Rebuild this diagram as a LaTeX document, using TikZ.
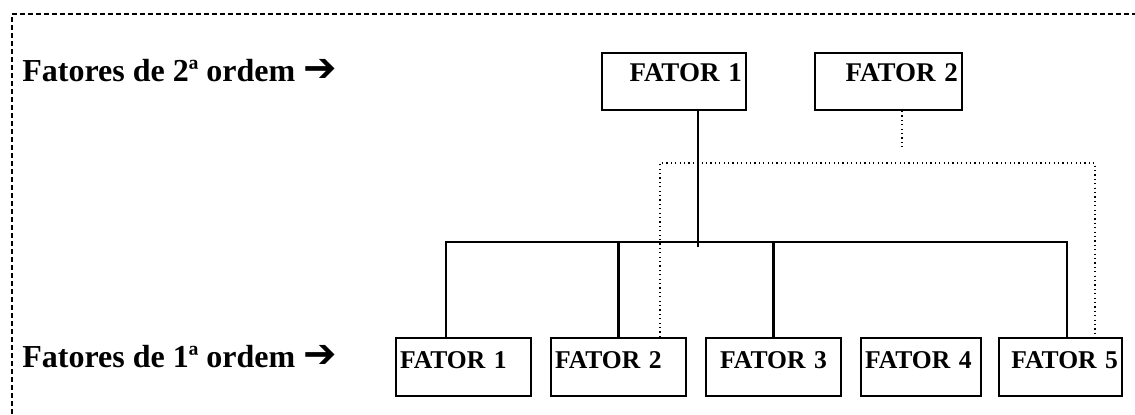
\documentclass[tikz,border=0pt]{standalone}
\usepackage{fontspec}
\setmainfont{Liberation Serif}
\newfontfamily\setafont{DejaVu Sans}
\usetikzlibrary{positioning,calc}

\begin{document}
\begin{tikzpicture}[
    x=0.5pt, y=-0.5pt,
    fator/.style={draw, line width=1pt, inner xsep=2pt, inner ysep=2pt},
    fatorsup/.style={fator, text height=12pt, text depth=12.5pt, font=\fontsize{13.5}{15}\selectfont\bfseries},
    fatorinf/.style={fator, text height=13pt, text depth=12pt, font=\fontsize{12.8}{14}\selectfont\bfseries},
    rotulo/.style={anchor=base west, inner sep=0pt, font=\fontsize{16}{18}\selectfont\bfseries},
    ligacao/.style={line width=1.2pt},
    pontilhado/.style={line width=0.6pt, dash pattern=on 0.6pt off 1.6pt},
    moldura/.style={line width=0.6pt, dash pattern=on 2.5pt off 1.5pt}
]
    \useasboundingbox (0,0) rectangle (1135,414);

    % Frame
    \draw[moldura] (12,414) -- (12,14) -- (1135,14);

    % Labels
    \node[rotulo] (ordem2) at (22,81) {Fatores de 2ª ordem {\setafont\mdseries\fontsize{20}{20}\selectfont ➔}};
    \node[rotulo] (ordem1) at (22,367) {Fatores de 1ª ordem {\setafont\mdseries\fontsize{20}{20}\selectfont ➔}};

    % Nodes
    \node[fatorsup, text width=68pt, align=right] (sup1) at (674,81.5) {FATOR 1};
    \node[fatorsup, text width=69.5pt, align=right] (sup2) at (888.5,81.5) {FATOR 2};

    \node[fatorinf, text width=63.5pt, align=left] (inf1) at (463.5,367) {FATOR 1};
    \node[fatorinf, text width=63.5pt, align=left] (inf2) at (618.5,367) {FATOR 2};
    \node[fatorinf, text width=63.5pt, align=center] (inf3) at (773.5,367) {FATOR 3};
    \node[fatorinf, text width=56pt, align=left] (inf4) at (921,367) {FATOR 4};
    \node[fatorinf, text width=57.5pt, align=right] (inf5) at (1060.5,367) {FATOR 5};

    \coordinate (barra) at (0,242);
    \coordinate (nodo) at (698,247);
    \coordinate (ramo) at (902,149);
    \coordinate (pontoE) at (660,163);
    \coordinate (pontoD) at (1095,163);

    % Links
    \draw[ligacao] (sup1.south -| nodo) -- (nodo);
    \draw[ligacao] ([xshift=-8.75pt]inf1.north) |- ([xshift=3.25pt]inf5.north |- barra) -- ([xshift=3.25pt]inf5.north);
    \draw[ligacao] (inf2.north) -- (inf2.north |- barra);
    \draw[ligacao] (inf3.north) -- (inf3.north |- barra);

    \draw[pontilhado] (sup2.south -| ramo) -- (ramo);
    \draw[pontilhado] (inf2.north -| pontoE) -- (pontoE) -- (pontoD) -- (inf5.north -| pontoD);
\end{tikzpicture}
\end{document}
